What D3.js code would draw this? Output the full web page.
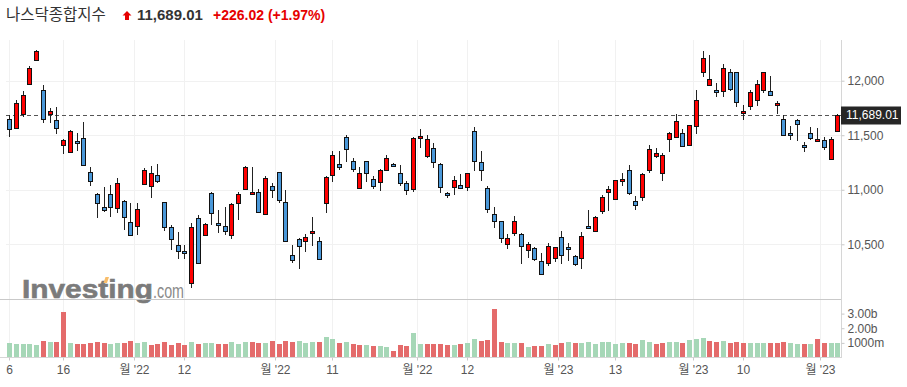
<!DOCTYPE html>
<html><head><meta charset="utf-8">
<script src="https://cdn.jsdelivr.net/npm/d3@7/dist/d3.min.js"></script>
<style>body{margin:0;background:#fff;}svg{display:block;}</style>
</head><body><svg id="c" width="907" height="387"></svg>
<script>
// ---- data ----
const dates = [
"2022-09-06","2022-09-07","2022-09-08","2022-09-09","2022-09-12","2022-09-13","2022-09-14","2022-09-15","2022-09-16","2022-09-19","2022-09-20","2022-09-21","2022-09-22","2022-09-23","2022-09-26","2022-09-27","2022-09-28","2022-09-29","2022-09-30",
"2022-10-03","2022-10-04","2022-10-05","2022-10-06","2022-10-07","2022-10-10","2022-10-11","2022-10-12","2022-10-13","2022-10-14","2022-10-17","2022-10-18","2022-10-19","2022-10-20","2022-10-21","2022-10-24","2022-10-25","2022-10-26","2022-10-27","2022-10-28","2022-10-31",
"2022-11-01","2022-11-02","2022-11-03","2022-11-04","2022-11-07","2022-11-08","2022-11-09","2022-11-10","2022-11-11","2022-11-14","2022-11-15","2022-11-16","2022-11-17","2022-11-18","2022-11-21","2022-11-22","2022-11-23","2022-11-25","2022-11-28","2022-11-29","2022-11-30",
"2022-12-01","2022-12-02","2022-12-05","2022-12-06","2022-12-07","2022-12-08","2022-12-09","2022-12-12","2022-12-13","2022-12-14","2022-12-15","2022-12-16","2022-12-19","2022-12-20","2022-12-21","2022-12-22","2022-12-23","2022-12-27","2022-12-28","2022-12-29","2022-12-30",
"2023-01-03","2023-01-04","2023-01-05","2023-01-06","2023-01-09","2023-01-10","2023-01-11","2023-01-12","2023-01-13","2023-01-17","2023-01-18","2023-01-19","2023-01-20","2023-01-23","2023-01-24","2023-01-25","2023-01-26","2023-01-27","2023-01-30","2023-01-31",
"2023-02-01","2023-02-02","2023-02-03","2023-02-06","2023-02-07","2023-02-08","2023-02-09","2023-02-10","2023-02-13","2023-02-14","2023-02-15","2023-02-16","2023-02-17","2023-02-21","2023-02-22","2023-02-23","2023-02-24","2023-02-27","2023-02-28",
"2023-03-01","2023-03-02","2023-03-03"];

const open = [11646,11563,11694,11969,12186,11911,11694,11639,11407,11343,
11444,11471,11166,10958,10839,10961,10830,10894,10701,10668,
11053,11034,11132,10885,10661,10490,10438,10142,10744,10582,
10967,10692,10665,10582,10875,11004,10958,10976,10775,11031,
11160,10885,10399,10551,10527,10600,10527,10875,11132,11233,
11480,11260,11013,11260,11095,11068,11181,11233,11150,11059,
11004,11471,11312,11380,11233,10967,11022,11040,11022,11542,
11251,11013,10775,10710,10503,10600,10591,10444,10463,10344,
10325,10371,10564,10472,10389,10371,10665,10619,10802,10976,
10912,11077,11178,10894,10930,11178,11306,11150,11462,11480,
11517,11407,11581,12076,11957,11911,11902,12076,12076,11701,
11765,11820,11911,11902,11774,11646,11517,11636,11407,11517,
11444,11453,11279,11535];

const high = [11685,11823,11905,12134,12281,11960,11746,11762,11468,11548,
11517,11618,11212,10967,11028,11043,11105,10906,10882,10876,
11202,11218,11233,10891,10677,10613,10493,10698,10768,10698,
10976,10814,10839,10875,10982,11218,11209,11004,11126,11059,
11160,11001,10493,10561,10594,10747,10564,11126,11352,11352,
11499,11288,11205,11260,11126,11187,11319,11242,11224,11080,
11480,11554,11499,11425,11242,10976,11126,11141,11150,11572,
11352,11034,10839,10717,10594,10759,10600,10518,10472,10417,
10509,10472,10622,10509,10399,10613,10814,10756,10949,11031,
11086,11150,11224,10940,11150,11407,11380,11334,11532,11691,
11554,11590,11914,12272,12235,11976,12150,12104,12076,11777,
11911,12003,12076,12040,11811,11682,11581,11646,11435,11572,
11563,11480,11480,11695];

const low = [11481,11554,11664,11960,12177,11609,11609,11511,11328,11343,
11358,11227,11034,10738,10799,10753,10790,10631,10585,10585,
11043,10921,11059,10622,10448,10362,10362,10102,10316,10579,
10677,10600,10585,10545,10723,10998,10952,10784,10768,10921,
10882,10524,10325,10270,10432,10484,10353,10784,11074,11181,
11257,11166,11010,11074,11004,10985,11175,11205,11034,10949,
10976,11386,11288,11196,10967,10921,10949,11004,10992,11169,
11077,10790,10646,10509,10454,10576,10316,10371,10344,10218,
10304,10334,10316,10344,10304,10270,10637,10609,10775,10802,
10906,11031,10949,10811,10894,11150,11288,11077,11349,11471,
11389,11398,11508,12031,11957,11847,11847,11902,11756,11636,
11728,11765,11884,11856,11691,11499,11453,11444,11343,11453,
11444,11361,11273,11526];

const close = [11554,11792,11866,12113,12269,11646,11719,11563,11453,11535,
11425,11227,11080,10875,10811,10839,11059,10750,10585,10820,
11178,11150,11077,10655,10545,10438,10420,10655,10325,10683,
10787,10674,10619,10866,10958,11209,10976,10799,11105,10995,
10903,10533,10353,10481,10564,10619,10362,11114,11322,11209,
11370,11187,11150,11155,11034,11178,11288,11215,11059,10995,
11471,11493,11462,11251,11022,10949,11086,11016,11150,11260,
11178,10820,10710,10554,10558,10710,10481,10500,10362,10224,
10481,10472,10399,10454,10316,10573,10646,10747,10930,11004,
11086,11095,10967,10857,11141,11370,11334,11316,11517,11630,
11398,11590,11820,12205,12012,11893,12113,11921,11801,11719,
11893,11966,12076,11866,11792,11499,11502,11600,11389,11471,
11462,11389,11462.99,11689.01];

// volume in billions
const volumeB = [0.97,0.90,0.90,0.90,0.83,1.13,1.04,1.04,3.11,0.97,
0.90,0.90,0.97,1.04,0.97,0.90,0.97,0.97,1.10,0.97,
1.04,0.83,0.90,1.04,0.83,0.97,0.83,1.04,0.90,0.97,
0.97,0.90,0.90,1.04,0.90,1.04,1.04,0.97,0.97,1.10,
0.90,1.10,1.04,1.10,0.97,1.04,1.04,1.38,1.24,0.97,
1.04,0.90,0.83,0.83,0.76,0.76,0.69,0.42,0.83,0.76,
1.65,0.90,0.90,0.90,0.90,0.83,0.83,0.90,0.97,1.24,
1.10,1.17,3.29,1.04,0.97,0.97,0.97,0.69,0.76,0.76,
0.90,0.83,0.97,1.04,0.97,0.97,1.04,0.90,1.04,1.04,
0.90,0.97,0.97,0.90,1.17,1.04,0.90,0.97,1.04,1.04,
0.97,1.17,1.24,1.31,1.10,1.04,1.10,0.97,1.04,0.97,
0.97,0.97,0.97,0.97,0.97,1.04,0.97,0.90,0.90,0.90,
1.24,0.97,0.97,0.97];

const priceTicks = [10500, 11000, 11500, 12000];
const volumeTicks = [1, 2, 3];
const volumeTickLabels = ["1000m", "2.00b", "3.00b"];
const dayTickDates = ["2022-09-06","2022-09-16","2022-10-12","2022-11-11","2022-12-12","2023-01-13","2023-02-10"];
const dayTickLabels = ["6","16","12","11","12","13","10"];
const monthTickStarts = ["2022-10-03","2022-11-01","2022-12-01","2023-01-03","2023-02-01","2023-03-01"];
const monthTickLabels = ["월 '22","월 '22","월 '22","월 '23","월 '23","월 '23"];
const titleName = "나스닥종합지수";
const lastPrice = 11689.01, change = 226.02, changePct = 1.97;

// ---- drawing ----
const svg = d3.select("#c");
const plotL = 6, plotR = 841;
const x = d3.scaleLinear().domain([0, dates.length - 1]).range([9.3, 837.3]);
const y = d3.scaleLinear().domain([10500, 12000]).range([244.3, 80.7]);
const vy = d3.scaleLinear().domain([0, 3]).range([357.5, 313.6]);
const UP = "#ff0000", DOWN = "#4a98d9";
const VUP = "#a6d7b7", VDOWN = "#e46b6b";
const fontLat = "'Liberation Sans', Arial, 'Noto Sans CJK KR', sans-serif";

// tick positions in index space
const tickItems = [];
dayTickDates.forEach((d,k)=>tickItems.push({pos: dates.indexOf(d), label: dayTickLabels[k]}));
monthTickStarts.forEach((d,k)=>tickItems.push({pos: dates.indexOf(d) - 0.5, label: monthTickLabels[k]}));
tickItems.sort((a,b)=>a.pos-b.pos);

// grid
const grid = svg.append("g");
grid.selectAll("line.h").data(priceTicks).join("line")
  .attr("x1", plotL).attr("x2", plotR)
  .attr("y1", d=>Math.round(y(d))+0.5).attr("y2", d=>Math.round(y(d))+0.5)
  .attr("stroke", "#f1f1f1");
grid.selectAll("line.v").data(tickItems).join("line")
  .attr("x1", d=>Math.round(x(d.pos))+0.5).attr("x2", d=>Math.round(x(d.pos))+0.5)
  .attr("y1", 40).attr("y2", 357)
  .attr("stroke", "#f1f1f1");

// watermark
const wm = svg.append("g");
wm.append("text").attr("x", 22).attr("y", 297.5).text("Investing")
  .attr("font-family", fontLat).attr("font-weight", "bold").attr("font-size", 26)
  .attr("textLength", 131).attr("lengthAdjust", "spacingAndGlyphs")
  .attr("fill", "#7b7b7b").attr("stroke", "#7b7b7b").attr("stroke-width", 0.6);
wm.append("text").attr("x", 153).attr("y", 297.5).text(".com")
  .attr("font-family", fontLat).attr("font-size", 20)
  .attr("textLength", 31).attr("lengthAdjust", "spacingAndGlyphs")
  .attr("fill", "#8a8a8a");
wm.append("path").attr("d", "M103.5,283 L105.5,277 L109,277 L107,283 Z").attr("fill", "#f8bd6a");

// separators / axis lines
svg.append("line").attr("x1", 0).attr("x2", plotR).attr("y1", 299.5).attr("y2", 299.5).attr("stroke", "#c9c9c9");
svg.append("line").attr("x1", 0).attr("x2", plotR).attr("y1", 357.5).attr("y2", 357.5).attr("stroke", "#d6d6d6");
svg.append("line").attr("x1", plotR+0.5).attr("x2", plotR+0.5).attr("y1", 40).attr("y2", 358).attr("stroke", "#d6d6d6");

// volume bars
svg.append("g").selectAll("rect").data(volumeB).join("rect")
  .attr("x", (d,i)=>Math.round(x(i))-2)
  .attr("width", 5)
  .attr("y", d=>Math.round(vy(d)))
  .attr("height", d=>357 - Math.round(vy(d)))
  .attr("fill", (d,i)=> (i===0 || close[i] >= close[i-1]) ? VUP : VDOWN);

// last price dashed line
svg.append("line").attr("x1", plotL).attr("x2", plotR)
  .attr("y1", Math.round(y(lastPrice))+0.5).attr("y2", Math.round(y(lastPrice))+0.5)
  .attr("stroke", "#555").attr("stroke-dasharray", "4,3");

// candles
const cg = svg.append("g").selectAll("g").data(dates).join("g");
cg.append("line")
  .attr("x1", (d,i)=>Math.round(x(i))+0.5).attr("x2", (d,i)=>Math.round(x(i))+0.5)
  .attr("y1", (d,i)=>Math.round(y(high[i]))).attr("y2", (d,i)=>Math.round(y(low[i])))
  .attr("stroke", "#222").attr("stroke-width", 1);
cg.append("rect")
  .attr("x", (d,i)=>Math.round(x(i))-1.5)
  .attr("width", 4)
  .attr("y", (d,i)=>Math.round(y(Math.max(open[i],close[i])))+0.5)
  .attr("height", (d,i)=>Math.max(1, Math.round(y(Math.min(open[i],close[i]))) - Math.round(y(Math.max(open[i],close[i])))))
  .attr("fill", (d,i)=> close[i] >= open[i] ? UP : DOWN)
  .attr("stroke", "#111").attr("stroke-width", 1);

// price axis
const pa = svg.append("g").attr("transform", `translate(${plotR+0.5},0)`)
  .call(d3.axisRight(y).tickValues(priceTicks).tickSize(3).tickPadding(3).tickFormat(d3.format(",")));
pa.select(".domain").remove();
pa.selectAll(".tick line").attr("stroke", "#c8c8c8");
pa.selectAll("text").attr("fill", "#555").attr("font-size", 12).attr("font-family", fontLat);

// volume axis
const va = svg.append("g").attr("transform", `translate(${plotR+0.5},0)`)
  .call(d3.axisRight(vy).tickValues(volumeTicks).tickSize(3).tickPadding(3).tickFormat((d,k)=>volumeTickLabels[k]));
va.select(".domain").remove();
va.selectAll(".tick line").attr("stroke", "#c8c8c8");
va.selectAll("text").attr("fill", "#555").attr("font-size", 12).attr("font-family", fontLat);

// x axis
const xa = svg.append("g").attr("transform", "translate(0,357.5)")
  .call(d3.axisBottom(x).tickValues(tickItems.map(t=>t.pos)).tickSize(3).tickPadding(5)
    .tickFormat((d,k)=>tickItems[k].label));
xa.select(".domain").remove();
xa.selectAll(".tick").attr("transform", d=>`translate(${Math.round(x(d))+0.5},0)`);
xa.selectAll(".tick line").attr("stroke", "#c8c8c8");
xa.selectAll("text").attr("fill", "#555").attr("font-size", 12).attr("font-family", fontLat);

// last price label
const ly = y(lastPrice);
svg.append("rect").attr("x", plotR).attr("y", Math.round(ly)-8.5).attr("width", 60).attr("height", 18).attr("fill", "#262626");
svg.append("text").attr("x", plotR+5).attr("y", ly).attr("dy", "0.35em").text(d3.format(",.2f")(lastPrice))
  .attr("fill", "#fff").attr("font-size", 12).attr("font-family", fontLat);

// header
svg.append("text").attr("x", 6).attr("y", 20).text(titleName)
  .attr("font-family", "'Noto Sans CJK KR', sans-serif").attr("font-size", 15.5).attr("fill", "#333");
svg.append("path").attr("d", "M127,11 L131.5,15.5 L129,15.5 L129,20 L125,20 L125,15.5 L122.5,15.5 Z").attr("fill", "#e60000");
svg.append("text").attr("x", 137).attr("y", 20).text(d3.format(",.2f")(lastPrice))
  .attr("font-family", fontLat).attr("font-weight", "bold").attr("font-size", 15).attr("fill", "#333");
svg.append("text").attr("x", 213).attr("y", 20)
  .text(`+${change.toFixed(2)} (+${changePct.toFixed(2)}%)`)
  .attr("font-family", fontLat).attr("font-weight", "bold").attr("font-size", 14).attr("fill", "#e60000");
</script></body></html>
